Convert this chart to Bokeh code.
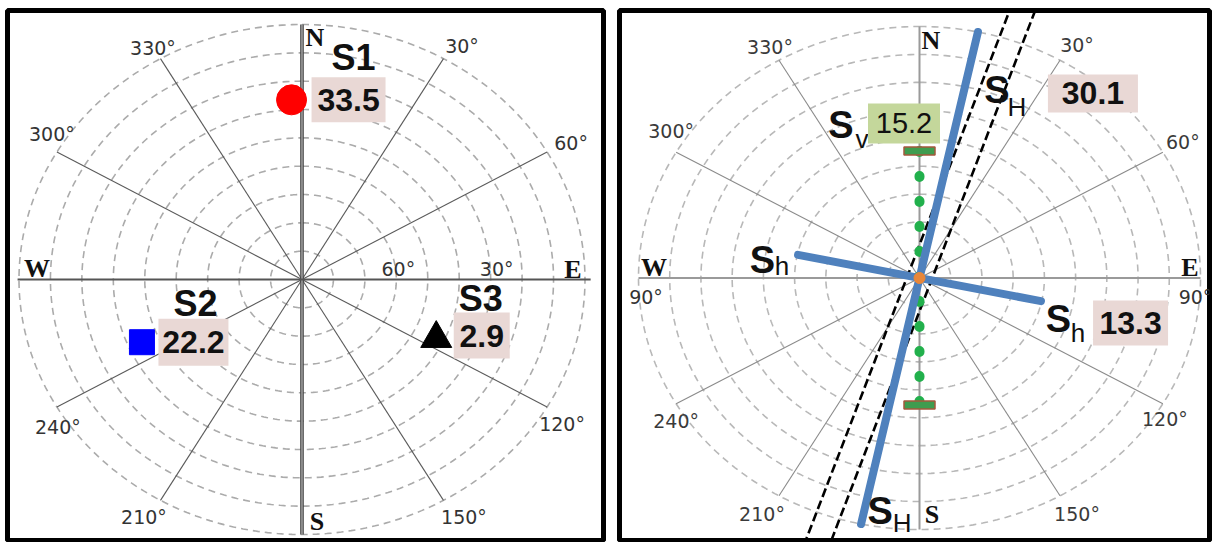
import numpy as np
from bokeh.plotting import figure
from bokeh.layouts import row
from bokeh.models import Range1d, ColumnDataSource
from bokeh.core.properties import value
from bokeh.embed import file_html
from bokeh.resources import INLINE

# ---------------- data ----------------
ring_count = 9                      # dip rings every 10 degrees
spoke_azimuths = [30, 60, 120, 150, 210, 240, 300, 330]
spoke_labels = ["30°", "60°", "120°", "150°", "210°", "240°", "300°", "330°"]
compass_letters = ["N", "E", "S", "W"]
compass_azimuths = [0, 90, 180, 270]

# left panel: principal stresses (azimuth, plunge) and magnitudes
stress_names = ["S1", "S2", "S3"]
stress_values = [33.5, 22.2, 2.9]
stress_azimuth = [357.0, 246.5, 116.0]
stress_plunge = [26.5, 34.5, 42.5]
dip_ticks = [60, 30]
dip_tick_labels = ["60°", "30°"]

# right panel: horizontal / vertical stresses
SH_value = 30.1
Sh_value = 13.3
Sv_value = 15.2
SH_azimuth = 12.0
Sh_azimuth = 102.0
band_azimuth = 19.0
band_offsets = [-0.043, 0.043]
edge_labels = ["90°", "90°"]
edge_azimuths = [270, 90]

# ---------------- layout ----------------
H = 542
XR1, YR1 = (-1.0406, 1.0654), (-1.0235, 1.0549)
XR2, YR2 = (-1.0676, 1.032), (-1.0437, 1.0636)

SANS = value("Liberation Sans")
SERIF = value("Liberation Serif")
DEG = value("DejaVu Sans")


def polar(r, az):
    a = np.radians(np.asarray(az, dtype=float))
    return np.asarray(r) * np.sin(a), np.asarray(r) * np.cos(a)


def make_fig(w, xr, yr, bl, br, bt, bb):
    p = figure(width=w, height=H, x_range=Range1d(*xr), y_range=Range1d(*yr),
               output_backend="svg", toolbar_location=None,
               x_axis_location=None, y_axis_location=None,
               min_border_left=bl, min_border_right=br, min_border_top=bt,
               min_border_bottom=bb,
               outline_line_color="black", outline_line_width=5,
               background_fill_color="white", border_fill_color="white")
    p.xgrid.visible = False
    p.ygrid.visible = False
    sx = (w - bl - br) / (xr[1] - xr[0])
    sy = (H - bt - bb) / (yr[1] - yr[0])
    return p, sx, sy


def draw_grid(p, ring_color, spoke_color, label_color, spoke_offs, comp_offs):
    t = np.linspace(0, 2 * np.pi, 361)
    xs = [list(k / ring_count * np.sin(t)) for k in range(1, ring_count + 1)]
    ys = [list(k / ring_count * np.cos(t)) for k in range(1, ring_count + 1)]
    p.multi_line(xs, ys, line_color=ring_color, line_dash="7 5", line_width=1.6)
    ex, ey = polar(1.0, spoke_azimuths)
    p.segment(x0=0, y0=0, x1=ex, y1=ey, line_color=spoke_color, line_width=1.1)
    p.text(x=ex, y=ey, text=spoke_labels,
           x_offset=[o[0] for o in spoke_offs], y_offset=[o[1] for o in spoke_offs],
           text_align="center", text_baseline="middle", text_font=DEG,
           text_font_size="19px", text_color=label_color)
    cx, cy = polar(1.0, compass_azimuths)
    p.text(x=cx, y=cy, text=compass_letters,
           x_offset=[o[0] for o in comp_offs], y_offset=[o[1] for o in comp_offs],
           text_align="center", text_baseline="middle", text_font=SERIF,
           text_font_style="bold", text_font_size="26px", text_color="#111111")


def box(p, x, y, dx, dy, w, h, sx, sy, color):
    xc = x + dx / sx
    yc = y - dy / sy
    p.quad(left=xc - w / 2 / sx, right=xc + w / 2 / sx,
           bottom=yc - h / 2 / sy, top=yc + h / 2 / sy,
           fill_color=color, line_color=None)
    return xc, yc


# ================= LEFT PANEL =================
p1, sx1, sy1 = make_fig(606, XR1, YR1, 7, 3, 10, 2)
draw_grid(p1, "#ababab", "#5a5a5a", "#333333",
          [(18.5, -13), (24, -9.5), (15, 16.5), (20.5, 17), (-16.5, 17), (1, 19.5), (-5, -18.5), (-7.5, -11)],
          [(13, 13), (-12, -10), (15, -13), (18, -11)])
# N-S double line and W-E line
p1.line([0, 0], [1.0, -1.0], line_color="#444444", line_width=3.6)
p1.line([0, 0], [1.0, -1.0], line_color="#d0d0d0", line_width=1.0)
p1.line([-1.005, 1.02], [0, 0], line_color="#555555", line_width=2)
# dip tick labels on E axis
dx_, dy_ = polar((90 - np.array(dip_ticks)) / 90, [90] * len(dip_ticks))
p1.text(x=dx_, y=dy_, text=dip_tick_labels, x_offset=[2, 6], y_offset=[-11, -11],
        text_align="center", text_baseline="middle", text_font=DEG,
        text_font_size="19px", text_color="#333333")

mr = (90 - np.array(stress_plunge)) / 90
mx, my = polar(mr, stress_azimuth)
src = ColumnDataSource(dict(x=mx, y=my, marker=["circle", "square", "triangle"],
                            color=["#ff0000", "#0000ff", "#000000"], size=[30, 25, 31]))
p1.scatter(x="x", y="y", marker="marker", size="size", fill_color="color",
           line_color="color", source=src)

box_offs = [(57, 0), (51.5, 0), (45.5, -3)]
box_sizes = [(74, 45), (70, 47), (56, 46)]
name_offs = [(62, -42), (53.5, -38.5), (44.5, -40)]
for i in range(3):
    bx, by = box(p1, mx[i], my[i], box_offs[i][0], box_offs[i][1],
                 box_sizes[i][0], box_sizes[i][1], sx1, sy1, "#e9d8d5")
    p1.text(x=[bx], y=[by], text=[f"{stress_values[i]:.1f}"], text_align="center",
            text_baseline="middle", text_font=SANS, text_font_style="bold",
            text_font_size="32px", text_color="#111111")
    p1.text(x=[mx[i]], y=[my[i]], text=[stress_names[i]], x_offset=[name_offs[i][0]],
            y_offset=[name_offs[i][1]], text_align="center", text_baseline="middle",
            text_font=SANS, text_font_style="bold", text_font_size="36px",
            text_color="#111111")

# ================= RIGHT PANEL =================
p2, sx2, sy2 = make_fig(596, XR2, YR2, 3, 3, 10, 2)
draw_grid(p2, "#b8b8b8", "#8a8a8a", "#3a3a3a",
          [(17, -15), (20, -10), (2, 15), (17, 18), (-17, 18), (0, 17), (-5, -21), (-9, -13)],
          [(11.5, 14), (-10.5, -10.5), (12.5, -15), (15.5, -10.5)])
p2.line([0, 0], [1.0, -1.0], line_color="#9a9a9a", line_width=2)
p2.line([-1.0, 1.0], [0, 0], line_color="#9a9a9a", line_width=2)
ex2, ey2 = polar(1.0, edge_azimuths)
p2.text(x=ex2, y=ey2, text=edge_labels, x_offset=[7.5, -5], y_offset=[18.5, 18.5],
        text_align="center", text_baseline="middle", text_font=DEG,
        text_font_size="19px", text_color="#333333")

smax = max(SH_value, Sh_value, Sv_value)

# dashed band (parallel lines)
da = np.radians(band_azimuth)
d = np.array([np.sin(da), np.cos(da)])
n = np.array([np.cos(da), -np.sin(da)])
for o in band_offsets:
    a = o * n + 1.6 * d
    b = o * n - 1.6 * d
    p2.line([a[0], b[0]], [a[1], b[1]], line_color="black", line_width=2.6, line_dash="9 4")

# Sv: dotted green
rv = Sv_value / smax
p2.line([0, 0], [rv, -rv], line_color="#22b04c", line_width=10, line_dash="1 24",
        line_cap="round")

# SH and Sh blue lines
rH = SH_value / smax
hx, hy = polar(rH, SH_azimuth)
p2.line([-hx, hx], [-hy, hy], line_color="#4f81bd", line_width=8, line_cap="round")
rh = Sh_value / smax
lx, ly = polar(rh, Sh_azimuth)
p2.line([-lx, lx], [-ly, ly], line_color="#4f81bd", line_width=8, line_cap="round")

# Sv caps
for yy in (rv, -rv):
    p2.quad(left=-15.5 / sx2, right=15.5 / sx2, bottom=yy - 4 / sy2, top=yy + 4 / sy2,
            fill_color="#3f9c4f", line_color="#a5583c", line_width=1.5)
# centre point
p2.scatter([0], [0], size=11, fill_color="#e8873a", line_color="#e8873a")


def sub_label(p, x, y, so, subo, sub):
    p.text(x=[x], y=[y], text=["S"], x_offset=[so[0]], y_offset=[so[1]],
           text_align="center", text_baseline="middle", text_font=SANS,
           text_font_style="bold", text_font_size="38px", text_color="#111111")
    p.text(x=[x], y=[y], text=[sub], x_offset=[subo[0]], y_offset=[subo[1]],
           text_align="center", text_baseline="middle", text_font=SANS,
           text_font_size="26px", text_color="#111111")


# SH labels
sub_label(p2, hx, hy, (19, 58.5), (39, 75.5), "H")
sub_label(p2, -hx, -hy, (19, -13.5), (41, -1), "H")
bx, by = box(p2, hx, hy, 115, 61.5, 90, 38, sx2, sy2, "#e9d8d5")
p2.text(x=[bx], y=[by], text=[f"{SH_value:.1f}"], text_align="center", text_baseline="middle",
        text_font=SANS, text_font_style="bold", text_font_size="32px", text_color="#111111")
# Sh labels
sub_label(p2, lx, ly, (17.5, 17.4), (37, 31.4), "h")
sub_label(p2, -lx, -ly, (-35.6, 5.1), (-16, 11.6), "h")
bx, by = box(p2, lx, ly, 89.6, 21.9, 75, 45, sx2, sy2, "#e9d8d5")
p2.text(x=[bx], y=[by], text=[f"{Sh_value:.1f}"], text_align="center", text_baseline="middle",
        text_font=SANS, text_font_style="bold", text_font_size="32px", text_color="#111111")
# Sv labels
sub_label(p2, 0, rv, (-78.5, -26), (-57.5, -11.5), "v")
bx, by = box(p2, 0, rv, -15.5, -27.5, 72, 40, sx2, sy2, "#c4d79b")
p2.text(x=[bx], y=[by], text=[f"{Sv_value:.1f}"], text_align="center", text_baseline="middle",
        text_font=SANS, text_font_size="29px", text_color="#111111")

layout = row(p1, p2, spacing=10)
open("out.html", "w").write(file_html(layout, INLINE))
